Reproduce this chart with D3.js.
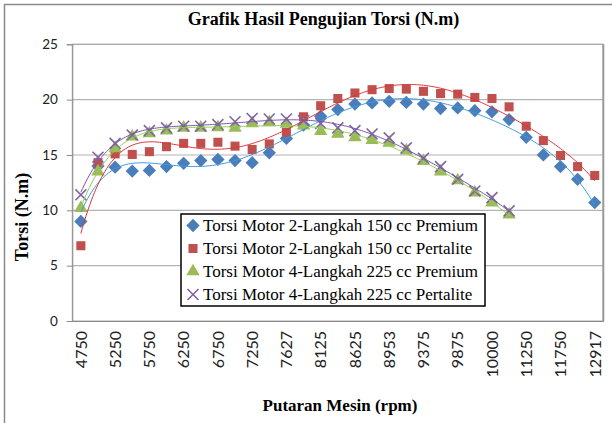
<!DOCTYPE html>
<html>
<head>
<meta charset="utf-8">
<script src="https://cdn.jsdelivr.net/npm/d3@7"></script>
<style>
  body { margin: 0; background: #fff; }
  svg { display: block; }
</style>
</head>
<body>
<svg id="chart" width="612" height="423"></svg>
<script>
// --- data ---
const rpm = ["4750","5000","5250","5500","5750","6000","6250","6500","6750","7000","7250","7500","7627","7875","8125",
             "8375","8625","8750","8953","9125","9375","9625","9875","9950","10000","10625","11250","11500","11750","12250","12917"];

const premium2T = [9.0,14.0,13.9,13.55,13.6,13.95,14.25,14.5,14.6,14.5,14.3,15.2,16.5,17.7,18.5,19.1,19.6,19.7,19.85,19.75,
                   19.6,19.2,19.25,19.0,18.9,18.2,16.6,15.0,13.95,12.8,10.7];
const pertalite2T = [6.8,14.3,15.1,15.05,15.3,15.75,16.05,16.05,16.15,15.8,15.5,16.0,17.05,18.45,19.45,20.1,20.6,20.9,21.0,20.95,
                     20.75,20.55,20.5,20.2,20.1,19.35,17.6,16.3,14.95,13.95,13.15];
const premium4T = [10.2,13.5,15.6,16.65,16.95,17.2,17.45,17.45,17.5,17.45,17.85,17.95,17.8,17.65,17.15,16.9,16.6,16.35,16.1,
                   15.4,14.45,13.5,12.7,11.6,10.7,9.6];
const pertalite4T = [11.4,14.8,16.05,16.8,17.2,17.45,17.6,17.6,17.75,18.0,18.3,18.25,18.25,18.1,17.85,17.45,17.2,16.9,16.55,
                     15.65,14.7,13.95,12.8,11.75,11.15,9.95];

const yTicks = [0, 5, 10, 15, 20, 25];

const series = [
  { name: "Torsi Motor 2-Langkah 150 cc Premium",   values: premium2T,   shape: "diamond",  color: "#4a7ebb", trend: "#3d9be0" },
  { name: "Torsi Motor 2-Langkah 150 cc Pertalite", values: pertalite2T, shape: "square",   color: "#c0504d", trend: "#e0353b" },
  { name: "Torsi Motor 4-Langkah 225 cc Premium",   values: premium4T,   shape: "triangle", color: "#9bbb59", trend: "#92d050" },
  { name: "Torsi Motor 4-Langkah 225 cc Pertalite", values: pertalite4T, shape: "cross",    color: "#8064a2", trend: "#7a55b0" }
];

// least squares polynomial (like the Excel trendline)
function polyFit(vals, deg) {
  const n = vals.length;
  const xs = vals.map((d, i) => (i - (n - 1) / 2) / ((n - 1) / 2));
  const m = deg + 1;
  const A = Array.from({length: m}, () => new Array(m + 1).fill(0));
  xs.forEach((x, k) => {
    for (let r = 0; r < m; r++) {
      for (let c = 0; c < m; c++) A[r][c] += Math.pow(x, r + c);
      A[r][m] += Math.pow(x, r) * vals[k];
    }
  });
  for (let p = 0; p < m; p++) {
    let best = p;
    for (let r = p + 1; r < m; r++) if (Math.abs(A[r][p]) > Math.abs(A[best][p])) best = r;
    [A[p], A[best]] = [A[best], A[p]];
    for (let r = 0; r < m; r++) {
      if (r === p) continue;
      const f = A[r][p] / A[p][p];
      for (let c = p; c <= m; c++) A[r][c] -= f * A[p][c];
    }
  }
  const coef = A.map((row, i) => row[m] / row[i]);
  return t => {
    const x = (t - (n - 1) / 2) / ((n - 1) / 2);
    return coef.reduce((s, a, i) => s + a * Math.pow(x, i), 0);
  };
}

const svg = d3.select("#chart");
const W = 612, H = 423;
const plot = { left: 72.3, right: 603.3, top: 44.3, bottom: 321 };

svg.append("rect").attr("width", W).attr("height", H).attr("fill", "#fff");
// outer chart border (cropped on right / bottom)
svg.append("rect").attr("x", 4.5).attr("y", 4.5).attr("width", 640).attr("height", 440)
  .attr("fill", "none").attr("stroke", "#8a8a8a").attr("stroke-width", 1.5);

const x = d3.scaleBand().domain(d3.range(rpm.length)).range([plot.left, plot.right]);
const xc = i => x.bandwidth() * (i + 0.5) + plot.left;
const y = d3.scaleLinear().domain([0, 25]).range([plot.bottom, plot.top]);

// gridlines
svg.append("g").selectAll("line").data(yTicks.filter(d => d > 0)).join("line")
  .attr("x1", plot.left).attr("x2", plot.right)
  .attr("y1", d => y(d)).attr("y2", d => y(d))
  .attr("stroke", "#b4b4b4").attr("stroke-width", 1.2);

// plot border
svg.append("rect").attr("x", plot.left).attr("y", plot.top)
  .attr("width", plot.right - plot.left).attr("height", plot.bottom - plot.top)
  .attr("fill", "none").attr("stroke", "#a6a6a6").attr("stroke-width", 1);
svg.append("line").attr("x1", plot.right).attr("x2", plot.right).attr("y1", plot.top).attr("y2", plot.bottom)
  .attr("stroke", "#9a9a9a").attr("stroke-width", 2);

// y axis
const yAxis = svg.append("g").attr("transform", `translate(${plot.left},0)`)
  .call(d3.axisLeft(y).tickValues(yTicks).tickSize(5.5).tickPadding(9));
yAxis.select(".domain").attr("stroke", "#8a8a8a");
yAxis.selectAll(".tick line").attr("stroke", "#8a8a8a");
yAxis.selectAll(".tick text").attr("font-family", "Lato, sans-serif").attr("font-size", 13.5).attr("fill", "#222");

// x axis labels (every other category)
const xAxis = svg.append("g").attr("transform", `translate(0,${plot.bottom})`)
  .call(d3.axisBottom(x).tickValues(d3.range(0, rpm.length, 2)).tickFormat(i => rpm[i]).tickSize(0));
xAxis.select(".domain").attr("stroke", "#8a8a8a");
xAxis.selectAll(".tick text")
  .attr("font-family", "Lato, sans-serif").attr("font-size", 16).attr("fill", "#222")
  .attr("text-anchor", "end").attr("transform", "rotate(-90)")
  .attr("x", -10).attr("y", 0).attr("dy", "0.36em");

// markers
const diamond = { draw(ctx, size) { const r = Math.sqrt(size / 2); ctx.moveTo(0, -r); ctx.lineTo(r, 0); ctx.lineTo(0, r); ctx.lineTo(-r, 0); ctx.closePath(); } };
const symbolFor = s => s === "diamond" ? d3.symbol(diamond, 88)
  : s === "square" ? d3.symbol(d3.symbolSquare, 82)
  : s === "triangle" ? d3.symbol(d3.symbolTriangle, 78)
  : d3.symbol(d3.symbolTimes, 80);

series.forEach(s => {
  const g = svg.append("g");
  g.selectAll("path").data(s.values).join("path")
    .attr("transform", (d, i) => `translate(${xc(i)},${y(d)})`)
    .attr("d", symbolFor(s.shape))
    .attr("fill", s.shape === "cross" ? "none" : s.color)
    .attr("stroke", s.shape === "cross" ? s.color : "none")
    .attr("stroke-width", 1.6);
});

// polynomial trendlines
series.forEach(s => {
  const f = polyFit(s.values, 6);
  const ts = d3.range(0, s.values.length - 1 + 0.001, 0.1);
  svg.append("path").datum(ts)
    .attr("d", d3.line().x(t => xc(t)).y(t => y(f(t))))
    .attr("fill", "none").attr("stroke", s.trend).attr("stroke-width", 1);
});

// legend
const lg = svg.append("g");
lg.append("rect").attr("x", 181).attr("y", 214).attr("width", 304).attr("height", 92)
  .attr("fill", "#fff").attr("stroke", "#000").attr("stroke-width", 1.5);
series.forEach((s, i) => {
  const cy = 225.5 + i * 23;
  lg.append("path").attr("transform", `translate(193,${cy})`)
    .attr("d", symbolFor(s.shape))
    .attr("fill", s.shape === "cross" ? "none" : s.color)
    .attr("stroke", s.shape === "cross" ? s.color : "none").attr("stroke-width", 1.6);
  lg.append("text").attr("x", 203).attr("y", cy).attr("dy", "0.34em")
    .attr("font-family", "'Liberation Serif', 'Times New Roman', serif").attr("font-size", 17)
    .attr("fill", "#000").text(s.name);
});

// titles
svg.append("text").attr("x", 323.5).attr("y", 25).attr("text-anchor", "middle")
  .attr("font-family", "'Liberation Serif', serif").attr("font-weight", "bold").attr("font-size", 18)
  .text("Grafik Hasil Pengujian Torsi (N.m)");
svg.append("text").attr("x", 340).attr("y", 411).attr("text-anchor", "middle")
  .attr("font-family", "'Liberation Serif', serif").attr("font-weight", "bold").attr("font-size", 17)
  .text("Putaran Mesin (rpm)");
svg.append("text").attr("transform", "translate(28,217) rotate(-90)").attr("text-anchor", "middle")
  .attr("font-family", "'Liberation Serif', serif").attr("font-weight", "bold").attr("font-size", 18)
  .text("Torsi (N.m)");
</script>
</body>
</html>
